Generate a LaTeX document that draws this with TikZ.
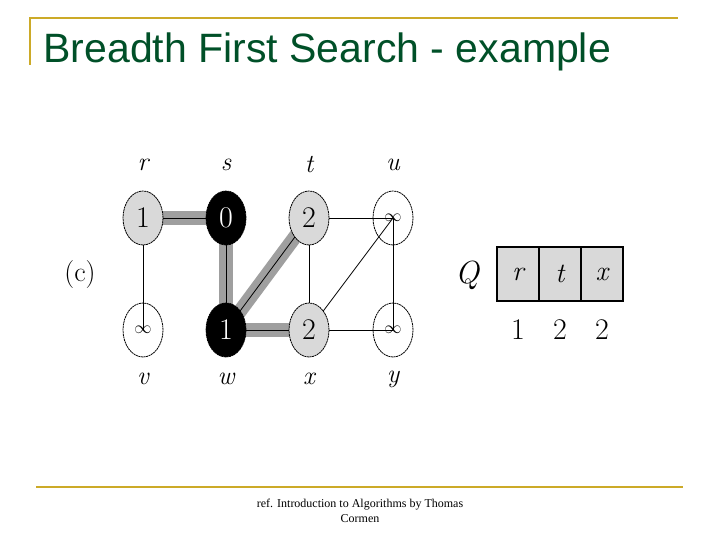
\documentclass[tikz,border=0pt]{standalone}
\usepackage{fontspec}
\setsansfont{Liberation Sans}
\newfontfamily\reffont{Liberation Serif}
\usetikzlibrary{shapes.geometric}
\definecolor{gold}{RGB}{204,170,40}
\definecolor{titlegreen}{RGB}{0,80,40}
\tikzset{
  vert/.style={draw,ellipse,line width=0.8pt,dashed,dash pattern=on 2pt off 0.6pt,minimum width=40pt,minimum height=54pt,inner sep=0pt,font=\fontsize{30}{30}\selectfont},
  gray vert/.style={vert,fill=gray!30},
  black vert/.style={vert,fill=black,text=white},
  tree/.style={line width=14pt,draw=gray!75},
  plain/.style={line width=0.8pt},
  lab/.style={font=\fontsize{26}{26}\selectfont\itshape}
}
\newcommand{\infsym}{{\fontsize{18}{18}\selectfont$\infty$}}
\begin{document}
\begin{tikzpicture}[x=1pt,y=1pt]
\useasboundingbox[fill=white] (0,0) rectangle (720,540);
\draw[gold,line width=2pt] (30,475) -- (30,522) -- (678,522);
\draw[gold,line width=2pt] (36,53) -- (683,53);
\node[anchor=west,text=titlegreen,font=\sffamily\fontsize{41}{41}\selectfont] (title) at (40,488) {Breadth First Search - example};
\node[align=center,font=\reffont\fontsize{12}{15}\selectfont] (ref) at (360,29) {ref. Introduction to Algorithms by Thomas\\ Cormen};

% vertex positions
\coordinate (r) at (143,322);
\coordinate (s) at (226,322);
\coordinate (t) at (309,322);
\coordinate (u) at (393,322);
\coordinate (v) at (143,210);
\coordinate (w) at (226,210);
\coordinate (x) at (309,210);
\coordinate (y) at (393,210);

\foreach \a/\b in {r/s,s/w,w/t,w/x}
  \draw[tree] (\a) -- (\b);
\foreach \a/\b in {r/s,s/w,w/t,w/x,r/v,t/u,t/x,u/y,x/y,x/u}
  \draw[plain] (\a) -- (\b);
\foreach \n/\s/\v in {r/gray vert/1,s/black vert/0,t/gray vert/2,u/vert/\infsym,v/vert/\infsym,w/black vert/1,x/gray vert/2,y/vert/\infsym}
  \node[\s] (\n node) at (\n) {\v};

\foreach \n in {r,s,t,u}
  \node[lab] (lab\n) at ([yshift=26pt]\n node.north) {\n};
\foreach \n in {v,w,x,y}
  \node[lab] (lab\n) at ([yshift=-22pt]\n node.south) {\n};

\node[font=\fontsize{28}{28}\selectfont] (c) at (80,265) {(c)};
\node[font=\fontsize{32}{32}\selectfont\itshape] (Q) at (467,265) {Q};
\foreach \i/\l/\d in {0/r/1,1/t/2,2/x/2} {
  \node[draw,line width=1.2pt,fill=gray!30,minimum width=42pt,minimum height=54pt,inner sep=0pt,font=\fontsize{28}{28}\selectfont\itshape] (q\i) at (518+42*\i,266) {\l};
  \node[font=\fontsize{30}{30}\selectfont] (d\i) at (518+42*\i,210) {\d};
}
\end{tikzpicture}
\end{document}
